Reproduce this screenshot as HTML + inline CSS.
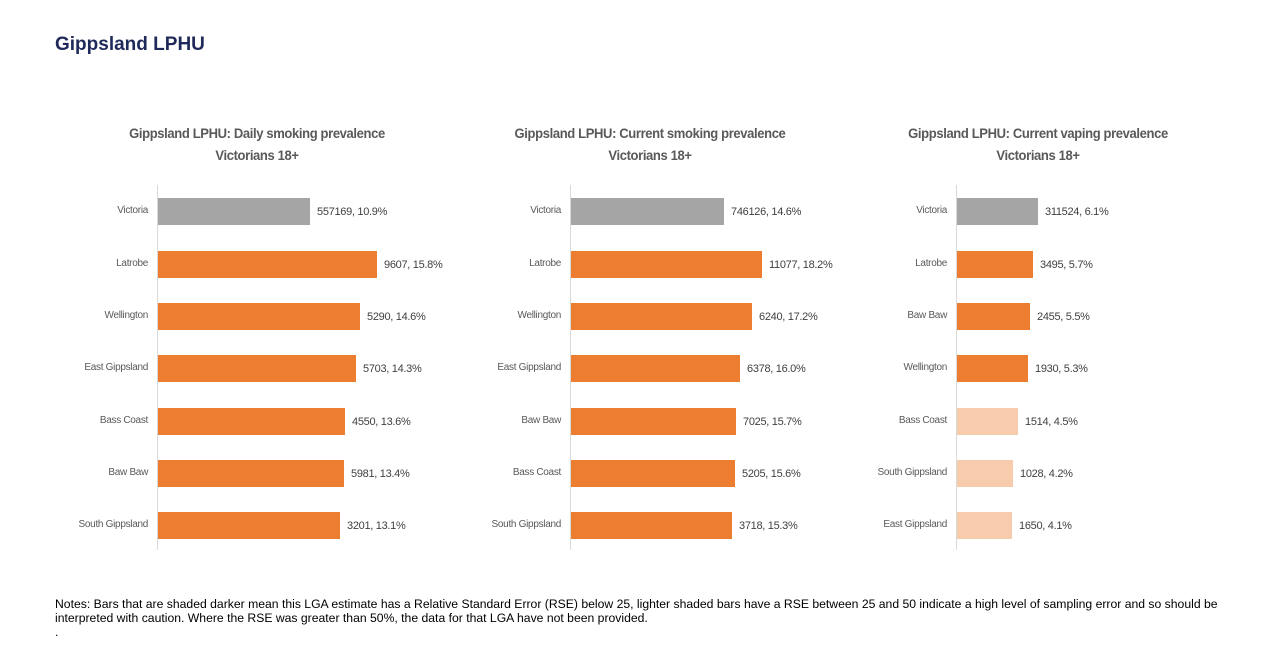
<!DOCTYPE html><html><head><style>
body{margin:0;width:1282px;height:667px;background:#fff;position:relative;font-family:"Liberation Sans",sans-serif;overflow:hidden}
.a{position:absolute}
.h{left:55px;top:34px;font-size:19px;font-weight:bold;color:#1f2a5a}
.t{width:360px;text-align:center;font-size:14px;color:#595959;line-height:22px;font-weight:bold;letter-spacing:-0.4px;transform:scaleX(0.93)}
.ax{width:1px;background:#d9d9d9;top:185px;height:365px}
.b{height:27px}
.c{font-size:10px;color:#595959;text-align:right;width:140px;letter-spacing:-0.3px}
.v{font-size:11px;color:#404040;letter-spacing:-0.3px}
.n{left:55px;top:597px;font-size:12.2px;color:#000;line-height:14px;width:1185px}
</style></head><body>
<div class="a h">Gippsland LPHU</div>
<div id="c"></div>
<div class="a n">Notes: Bars that are shaded darker mean this LGA estimate has a Relative Standard Error (RSE) below 25, lighter shaded bars have a RSE between 25 and 50 indicate a high level of sampling error and so should be interpreted with caution. Where the RSE was greater than 50%, the data for that LGA have not been provided.<br>.</div>
<script>
var G='#a5a5a5',O='#ed7d31',L='#f8cbad';
var charts=[
{x:157,t:'Gippsland LPHU: Daily smoking prevalence',d:[['Victoria',310,'557169, 10.9%',G],['Latrobe',377,'9607, 15.8%',O],['Wellington',360,'5290, 14.6%',O],['East Gippsland',356,'5703, 14.3%',O],['Bass Coast',345,'4550, 13.6%',O],['Baw Baw',344,'5981, 13.4%',O],['South Gippsland',340,'3201, 13.1%',O]]},
{x:570,t:'Gippsland LPHU: Current smoking prevalence',d:[['Victoria',724,'746126, 14.6%',G],['Latrobe',762,'11077, 18.2%',O],['Wellington',752,'6240, 17.2%',O],['East Gippsland',740,'6378, 16.0%',O],['Baw Baw',736,'7025, 15.7%',O],['Bass Coast',735,'5205, 15.6%',O],['South Gippsland',732,'3718, 15.3%',O]]},
{x:956,t:'Gippsland LPHU: Current vaping prevalence',d:[['Victoria',1038,'311524, 6.1%',G],['Latrobe',1033,'3495, 5.7%',O],['Baw Baw',1030,'2455, 5.5%',O],['Wellington',1028,'1930, 5.3%',O],['Bass Coast',1018,'1514, 4.5%',L],['South Gippsland',1013,'1028, 4.2%',L],['East Gippsland',1012,'1650, 4.1%',L]]}];
var ys=[211,264,316,368,421,473,525],h='';
charts.forEach(function(c,i){
var cx=[257,650,1038][i];
h+='<div class="a t" style="left:'+(cx-180)+'px;top:122px">'+c.t+'<br>Victorians 18+</div>';
h+='<div class="a ax" style="left:'+c.x+'px"></div>';
c.d.forEach(function(r,j){var y=ys[j];
h+='<div class="a b" style="left:'+(c.x+1)+'px;top:'+(y-13)+'px;width:'+(r[1]-c.x-1)+'px;background:'+r[3]+'"></div>';
h+='<div class="a c" style="left:'+(c.x-149)+'px;top:'+(y-6)+'px">'+r[0]+'</div>';
h+='<div class="a v" style="left:'+(r[1]+7)+'px;top:'+(y-5)+'px">'+r[2]+'</div>';});
});
document.getElementById('c').innerHTML=h;
</script>
</body></html>
